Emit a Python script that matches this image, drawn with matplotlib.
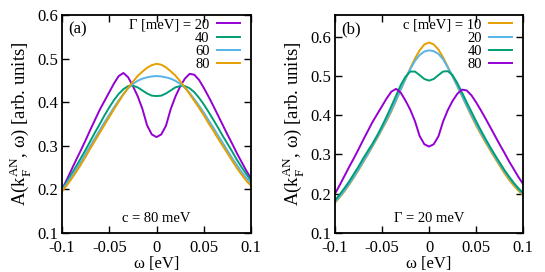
import numpy as np
import matplotlib
matplotlib.use("Agg")
from matplotlib import pyplot as plt
from matplotlib.ticker import FormatStrFormatter

plt.rcParams['font.family'] = ['Liberation Serif', 'DejaVu Serif']
plt.rcParams['mathtext.fontset'] = 'custom'
plt.rcParams['mathtext.rm'] = 'Liberation Serif'
plt.rcParams['axes.unicode_minus'] = False

# omega grid (eV), step 0.005
omega = np.linspace(-0.1, 0.1, 41)

# panel (a): c = 80 meV, varying Gamma
# Gamma = 20 (also used in panel (b) as c = 80)
g20_c80 = [0.200, 0.222, 0.245, 0.268, 0.290, 0.313, 0.337, 0.360, 0.383, 0.403,
           0.423, 0.443, 0.460, 0.467, 0.457, 0.437, 0.414, 0.385, 0.347, 0.326,
           0.320,
           0.326, 0.346, 0.384, 0.413, 0.436, 0.454, 0.465, 0.463, 0.451, 0.433,
           0.413, 0.392, 0.370, 0.348, 0.326, 0.305, 0.283, 0.263, 0.243, 0.225]
g40_c80 = [0.200, 0.217, 0.235, 0.253, 0.272, 0.291, 0.311, 0.331, 0.350, 0.370,
           0.388, 0.405, 0.419, 0.430, 0.437, 0.438, 0.434, 0.427, 0.420, 0.415,
           0.414,
           0.415, 0.420, 0.427, 0.434, 0.437, 0.437, 0.432, 0.423, 0.410, 0.395,
           0.378, 0.360, 0.342, 0.323, 0.305, 0.287, 0.268, 0.251, 0.235, 0.220]
g60_c80 = [0.198, 0.213, 0.229, 0.246, 0.264, 0.282, 0.300, 0.318, 0.336, 0.354,
           0.371, 0.388, 0.404, 0.419, 0.432, 0.442, 0.449, 0.454, 0.457, 0.459,
           0.460,
           0.459, 0.457, 0.454, 0.449, 0.442, 0.433, 0.421, 0.407, 0.392, 0.376,
           0.359, 0.342, 0.324, 0.307, 0.289, 0.272, 0.256, 0.240, 0.226, 0.214]
g80_c80 = [0.195, 0.209, 0.224, 0.240, 0.257, 0.275, 0.294, 0.312, 0.330, 0.348,
           0.366, 0.384, 0.401, 0.418, 0.433, 0.447, 0.460, 0.470, 0.479, 0.485,
           0.488,
           0.486, 0.480, 0.471, 0.461, 0.448, 0.434, 0.419, 0.403, 0.387, 0.370,
           0.352, 0.335, 0.317, 0.300, 0.283, 0.266, 0.249, 0.234, 0.220, 0.208]

# panel (b): Gamma = 20 meV, varying c
g20_c10 = [0.177, 0.191, 0.206, 0.223, 0.241, 0.260, 0.280, 0.300, 0.321, 0.342,
           0.364, 0.386, 0.410, 0.437, 0.465, 0.492, 0.519, 0.544, 0.565, 0.580,
           0.585,
           0.580, 0.567, 0.547, 0.523, 0.499, 0.474, 0.449, 0.423, 0.398, 0.374,
           0.352, 0.331, 0.311, 0.291, 0.272, 0.253, 0.236, 0.221, 0.208, 0.196]
g20_c20 = [0.179, 0.193, 0.208, 0.225, 0.243, 0.262, 0.282, 0.302, 0.323, 0.344,
           0.366, 0.389, 0.413, 0.439, 0.466, 0.493, 0.517, 0.538, 0.553, 0.562,
           0.565,
           0.563, 0.556, 0.542, 0.521, 0.499, 0.475, 0.450, 0.425, 0.401, 0.378,
           0.356, 0.335, 0.315, 0.295, 0.276, 0.258, 0.241, 0.226, 0.212, 0.199]
g20_c40 = [0.183, 0.198, 0.214, 0.231, 0.250, 0.269, 0.290, 0.309, 0.328, 0.349,
           0.372, 0.397, 0.423, 0.450, 0.477, 0.498, 0.511, 0.511, 0.502, 0.492,
           0.488,
           0.492, 0.502, 0.511, 0.512, 0.502, 0.482, 0.458, 0.433, 0.409, 0.385,
           0.362, 0.340, 0.319, 0.299, 0.280, 0.261, 0.244, 0.228, 0.214, 0.202]

purple = '#9400d3'
green = '#009e73'
lblue = '#56b4e9'
orange = '#e69f00'

labels_a = ['Γ [meV] = 20', '40', '60', '80']
labels_b = ['c [meV] = 10', '20', '40', '80']

fig = plt.figure(figsize=(5.45, 2.72), dpi=100)
axa = fig.add_axes([0.1138, 0.1434, 0.3468, 0.8015])
axb = fig.add_axes([0.6147, 0.1434, 0.3450, 0.8015])

axa.plot(omega, g20_c80, c=purple, lw=1.4, label=labels_a[0])
axa.plot(omega, g40_c80, c=green, lw=1.4, label=labels_a[1])
axa.plot(omega, g60_c80, c=lblue, lw=1.4, label=labels_a[2])
axa.plot(omega, g80_c80, c=orange, lw=1.4, label=labels_a[3])
axa.set_ylim(0.1, 0.6)
axa.set_yticks([0.1, 0.2, 0.3, 0.4, 0.5, 0.6])
axa.text(0.035, 0.97, '(a)', transform=axa.transAxes, va='top', fontsize=12)
axa.text(0.5, 0.035, 'c = 80 meV', transform=axa.transAxes, ha='center',
         va='bottom', fontsize=10.5)

axb.plot(omega, g20_c10, c=orange, lw=1.4, label=labels_b[0])
axb.plot(omega, g20_c20, c=lblue, lw=1.4, label=labels_b[1])
axb.plot(omega, g20_c40, c=green, lw=1.4, label=labels_b[2])
axb.plot(omega, g20_c80, c=purple, lw=1.4, label=labels_b[3])
axb.set_ylim(0.1, 0.655)
axb.set_yticks([0.1, 0.2, 0.3, 0.4, 0.5, 0.6])
axb.text(0.035, 0.97, '(b)', transform=axb.transAxes, va='top', fontsize=12)
axb.text(0.5, 0.035, 'Γ = 20 meV', transform=axb.transAxes, ha='center',
         va='bottom', fontsize=10.5)

for ax in (axa, axb):
    ax.set_xlim(-0.1, 0.1)
    ax.set_xticks([-0.1, -0.05, 0, 0.05, 0.1])
    ax.xaxis.set_major_formatter(FormatStrFormatter('%g'))
    ax.yaxis.set_major_formatter(FormatStrFormatter('%g'))
    ax.tick_params(direction='in', top=True, right=True, length=5, width=1,
                   labelsize=12, pad=3)
    ax.tick_params(axis='x', pad=5)
    for s in ax.spines.values():
        s.set_linewidth(1.3)
    ax.set_xlabel('ω [eV]', fontsize=12, labelpad=0)
    ax.set_ylabel(r'A(k$_\mathrm{F}^\mathrm{AN}$, ω) [arb. units]',
                  fontsize=13.5, labelpad=2)
    ax.legend(loc='upper right', bbox_to_anchor=(0.955, 0.995), frameon=False,
              markerfirst=False, fontsize=10.5, handlelength=1.6,
              handletextpad=0.5, labelspacing=0.0, borderaxespad=0.0,
              borderpad=0.15)

fig.savefig('out.png', dpi=100)
